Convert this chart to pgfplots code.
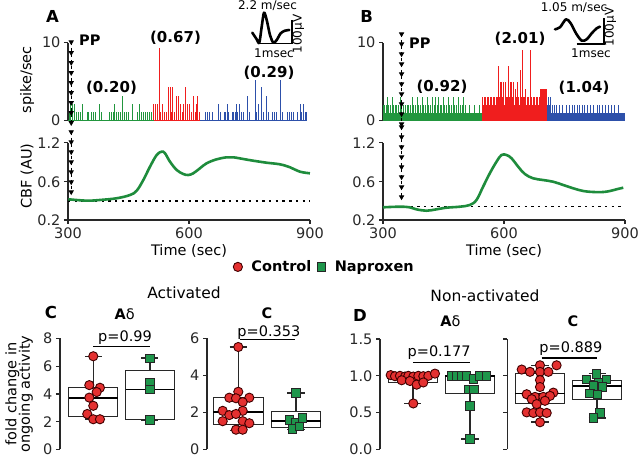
\documentclass[border=0pt]{standalone}
\usepackage{fontspec}
\setmainfont{DejaVu Sans}
\usepackage{pgfplots}
\pgfplotsset{compat=1.18}
\usepgfplotslibrary{statistics}
\definecolor{hgreen}{RGB}{34,150,62}
\definecolor{hred}{RGB}{240,30,30}
\definecolor{hblue}{RGB}{45,80,170}
\definecolor{cgreen}{RGB}{30,140,60}
\definecolor{dred}{RGB}{228,48,48}
\definecolor{dgreen}{RGB}{30,150,75}
\definecolor{axc}{RGB}{40,40,40}
\newcommand\fsT{\fontsize{14.5}{16}\selectfont}
\newcommand\fsB{\fontsize{15}{17}\selectfont}
\newcommand\fsL{\fontsize{16.5}{18}\selectfont}
\newcommand\fsS{\fontsize{12}{13}\selectfont}
\pgfplotsset{
  base/.style={scale only axis, anchor=south west, clip=false,
    axis line style={axc, line width=1.2pt},
    every tick/.style={axc, line width=1.2pt},
    tick align=outside, major tick length=4pt,
    tick label style={font=\fsT, text=axc}},
  hist/.style={width=242pt, height=78pt, xmin=300, xmax=900, ymin=0, ymax=10,
    axis x line=none, axis y line*=left, ytick={0,10}, yticklabels={0,10}},
  cbf/.style={width=242pt, height=77.3pt, xmin=300, xmax=900, ymin=0.2, ymax=1.2,
    axis x line*=bottom, axis y line*=left, xtick={300,600,900}, xticklabels={300,600,900},
    ytick={0.2,0.695,1.2}, yticklabels={0.2,0.6,1.2}},
  box/.style={axis x line=none, axis y line*=left, ymin=0},
  pp/.style={black, line width=0.9pt, dash pattern=on 3pt off 3pt, mark=triangle*, mark size=2.3pt,
    mark options={solid, rotate=180, fill=black}},
  rdot/.style={only marks, mark=*, mark size=4.6pt, mark options={fill=dred, draw=black!75!red, line width=0.9pt}},
  gsq/.style={only marks, mark=square*, mark size=4.2pt, mark options={fill=dgreen, draw=black!85, line width=0.9pt}},
  boxplot/draw direction=y,
  boxplot/every box/.style={draw=axc, line width=1pt, fill=white},
  boxplot/every whisker/.style={axc, line width=1.5pt},
  boxplot/every median/.style={black, line width=1.8pt},
  bx/.style={forget plot, axc, boxplot prepared={box extend=0.86, whisker extend=0.3}},
  pline/.style={black, line width=1.4pt, forget plot},
}
\begin{document}
\begin{tikzpicture}
\useasboundingbox (0,0) rectangle (640pt,457pt);

% ---------- canvas for inset spikes ----------
\begin{axis}[at={(0pt,0pt)}, anchor=south west, scale only axis, width=640pt, height=457pt,
  xmin=0, xmax=640, ymin=-457, ymax=0, hide axis, clip=false]
\addplot[black, line width=2.6pt, smooth, tension=0.5, line join=round, line cap=round] coordinates {
(252.3,-32.7)(256.7,-39.3)(259.3,-42.7)(261.7,-26.7)(264,-12.7)(266.7,-20)(270,-35)(273.3,-42.7)(276.7,-40)(280.7,-33.3)(285,-30.7)(289.3,-30)};
\addplot[black, line width=1.2pt] coordinates {(260,-43.3)(292,-43.3)(292,-20)};
\addplot[black, line width=2.6pt, smooth, tension=0.5, line join=round, line cap=round] coordinates {
(555,-29.3)(560,-27.3)(566,-19.3)(570.7,-23.3)(576,-33.3)(581.7,-40.7)(586.7,-39.3)(591.7,-33.3)(596.7,-28.3)(600,-26.7)};
\addplot[black, line width=1.2pt] coordinates {(576.7,-44)(604,-44)(604,-18.3)};
\end{axis}

% ---------- Histogram A ----------
\begin{axis}[base, hist, at={(68pt,336.3pt)}]
\addplot[ycomb, hgreen, line width=0.9pt] coordinates {
(303,1.1)(306,2.2)(310,2.2)(312,2.2)(315,2.2)(322,1.1)(327,1.1)(332,1.1)(337,2.2)(347,1.1)(350,1.1)(359,1.1)(362,1.1)(367,1.1)(377,2.2)(384,1.1)(404,1.1)(407,1.1)(412,1.1)(414,2.2)(421,1.1)(424,1.1)(429,1.1)(436,3.2)(441,1.1)(444,1.1)(449,1.1)(459,2.2)(461,1.1)(471,1.1)(476,2.2)(483,1.1)(486,1.1)(491,1.1)(496,1.1)(501,1.1)(506,1.1)};
\addplot[ycomb, hred, line width=0.9pt] coordinates {
(513,2.2)(516,2.2)(518,2.2)(521,1.1)(523,2.2)(526,9.3)(530,1.1)(535,2.2)(538,1.1)(543,1.1)(548,4.3)(553,2.2)(555,4.3)(557,1.1)(560,4.3)(565,1.1)(570,3.2)(573,3.2)(578,2.2)(583,1.1)(587,2.2)(590,4.3)(595,2.2)(600,1.1)(602,2.2)(607,1.1)(610,3.2)(615,1.1)(618,2.2)(622,3.2)(625,1.1)};
\addplot[ycomb, hblue, line width=0.8pt] coordinates {
(640,1.1)(645,1.1)(651,1.1)(657,1.1)(672,2.2)(677,1.1)(687,1.1)(690,1.1)(694,2.2)(697,1.1)(707,1.1)(710,1.1)(714,1.1)(717,2.2)(721,1.1)(726,2.2)(731,1.1)(735,1.1)(746,3.2)(751,1.1)(764,5.2)(768,1.1)(772,2.2)(780,4.3)(784,1.1)(791,3.2)(797,1.1)(807,1.1)(811,1.1)(817,1.1)(827,5.2)(831,1.1)(843,1.1)(848,1.1)(855,1.1)(860,1.1)(870,1.1)(875,2.2)(879,1.1)(883,2.2)(888,1.1)(892,1.1)};
\addplot[hgreen, line width=1pt] coordinates {(300,0)(512,0)};
\addplot[hred, line width=1pt] coordinates {(512,0)(627,0)};
\addplot[hblue, line width=1pt] coordinates {(627,0)(893,0)};
\addplot[pp] coordinates {(308,10.1)(308,8.72)(308,7.44)(308,6.15)(308,4.87)(308,3.59)(308,2.31)(308,1.03)(308,-0.26)};
\end{axis}

% ---------- CBF A ----------
\begin{axis}[base, cbf, at={(68pt,237pt)}]
\addplot[black, line width=1.6pt, dash pattern=on 2.4pt off 4.3pt] coordinates {(300,0.446)(900,0.446)};
\addplot[cgreen, line width=2.6pt, smooth, tension=0.6] coordinates {
(300.8,0.468)(346.3,0.450)(379.3,0.459)(420.6,0.481)(453.7,0.523)(470.3,0.579)(486.7,0.717)(503.3,0.890)(519.9,1.041)(532.3,1.084)(540.5,1.063)(552.9,0.954)(569.5,0.847)(585.8,0.795)(598.2,0.782)(610.6,0.804)(627.2,0.869)(643.8,0.934)(668.6,0.985)(693.4,1.011)(709.8,1.011)(734.6,0.989)(759.4,0.967)(792.5,0.941)(825.6,0.920)(850.3,0.882)(875.1,0.825)(899.9,0.804)};
\addplot[pp] coordinates {(308,1.34)(308,1.21)(308,1.08)(308,0.951)(308,0.822)(308,0.692)(308,0.563)};
\end{axis}

% ---------- Histogram B ----------
\begin{axis}[base, hist, at={(383pt,336.3pt)}]
\addplot[ycomb, hgreen, line width=0.6pt] table[header=false, x expr={300+2.479*\coordindex}, y index=0, row sep=\\] {
2\\2\\1\\2\\3\\2\\1\\2\\1\\3\\2\\1\\2\\2\\1\\2\\1\\3\\2\\1\\2\\1\\2\\1\\2\\2\\1\\2\\1\\3\\2\\1\\2\\1\\3\\2\\1\\2\\1\\3\\2\\1\\2\\1\\3\\2\\1\\2\\1\\3\\1\\2\\3\\1\\2\\3\\1\\2\\2\\1\\3\\2\\1\\2\\1\\3\\2\\1\\2\\1\\3\\2\\1\\2\\1\\3\\1\\2\\1\\2\\3\\1\\2\\1\\1\\1\\2\\1\\1\\1\\1\\2\\1\\1\\1\\1\\2\\1\\1\\
};
\addplot[ycomb, hred, line width=0.6pt] table[header=false, x expr={545.4+2.479*\coordindex}, y index=0, row sep=\\] {
3\\2\\3\\3\\2\\3\\3\\2\\3\\3\\2\\3\\3\\2\\3\\3\\7\\3\\5\\5\\3\\5\\2\\5\\3\\3\\7\\3\\5\\5\\3\\5\\2\\4\\3\\5\\3\\2\\6.5\\3\\9\\3\\3\\4\\2\\3\\3\\2\\9\\3\\2\\3\\3\\2\\3\\3\\2\\3\\4\\4\\4\\4\\4\\4\\4\\
};
\addplot[ycomb, hblue, line width=0.6pt] table[header=false, x expr={706.6+2.479*\coordindex}, y index=0, row sep=\\] {
2\\3\\2\\3\\1\\2\\1\\2\\1\\2\\1\\1\\2\\1\\1\\2\\1\\1\\1\\2\\1\\1\\2\\1\\1\\2\\1\\2\\1\\1\\2\\1\\2\\1\\1\\2\\1\\2\\1\\1\\2\\1\\1\\2\\1\\1\\2\\1\\1\\1\\2\\1\\2\\1\\1\\2\\1\\1\\2\\1\\1\\2\\1\\1\\2\\1\\1\\2\\1\\1\\1\\2\\1\\1\\1\\1\\1\\1\\
};
\addplot[hgreen, line width=1pt] coordinates {(300,0)(545,0)};
\addplot[hred, line width=1pt] coordinates {(545,0)(707,0)};
\addplot[hblue, line width=1pt] coordinates {(707,0)(898,0)};
\addplot[pp] coordinates {(346,11.12)(346,9.83)(346,8.55)(346,7.27)(346,5.99)(346,4.71)(346,3.42)(346,2.14)(346,0.86)(346,-0.42)};
\end{axis}

% ---------- CBF B ----------
\begin{axis}[base, cbf, at={(383pt,237pt)}]
\addplot[black, line width=1.6pt, dash pattern=on 2.4pt off 4.3pt] coordinates {(302,0.372)(900,0.372)};
\addplot[cgreen, line width=2.6pt, smooth, tension=0.6] coordinates {
(300,0.364)(341.4,0.372)(366.3,0.364)(382.9,0.338)(407.7,0.320)(432.5,0.338)(457.3,0.359)(490.4,0.372)(515.2,0.394)(531.8,0.459)(548.2,0.631)(564.8,0.804)(581.4,0.954)(593.8,1.041)(606.2,1.041)(618.7,0.998)(635.1,0.890)(651.7,0.795)(672.3,0.739)(697.1,0.717)(721.9,0.695)(746.8,0.653)(771.6,0.610)(796.4,0.575)(821.2,0.562)(846.0,0.562)(862.6,0.575)(879.1,0.597)(895.7,0.618)};
\addplot[pp] coordinates {(346,1.403)(346,1.274)(346,1.144)(346,1.015)(346,0.886)(346,0.756)(346,0.627)(346,0.498)};
\end{axis}

% ---------- C1: A-delta activated ----------
\begin{axis}[base, box, width=118.3pt, height=111pt, at={(60pt,7.5pt)}, xmin=0.413, xmax=2.5, ymax=8,
  ytick={0,2,4,6,8}, yticklabels={0,2,4,6,8},
  legend style={at={(axis description cs:2.236,1.645)}, anchor=center, draw=none, fill=none,
    legend columns=2, font=\bfseries\fsT,
    /tikz/every odd column/.append style={column sep=7pt},
    /tikz/every even column/.append style={column sep=4pt}},
  legend cell align=left]
\addplot[bx, boxplot prepared={draw position=1, lower whisker=2.18, lower quartile=2.41, median=3.69, upper quartile=4.45, upper whisker=6.72}] coordinates {};
\addplot[bx, boxplot prepared={draw position=2, lower whisker=2.13, lower quartile=2.13, median=4.33, upper quartile=5.70, upper whisker=6.58}] coordinates {};
\addplot[pline] coordinates {(1,7.41)(2,7.41)};
\addplot[rdot] coordinates {(1.0,6.72)(0.93,4.64)(1.118,4.45)(1.06,4.14)(0.93,3.74)(1.0,3.15)(0.894,2.56)(1.0,2.18)(1.118,2.18)};
\addlegendentry{Control}
\addplot[gsq] coordinates {(2,6.58)(2,4.80)(2,4.33)(2,2.13)};
\addlegendentry{Naproxen}
\node[font=\fsT] at (axis cs:1.56,8.05) {p=0.99};
\end{axis}

% ---------- C2: C activated ----------
\begin{axis}[base, box, width=115pt, height=111pt, at={(207pt,7.5pt)}, xmin=0.458, xmax=2.45, ymax=6,
  ytick={0,2,4,6}, yticklabels={0,2,4,6}]
\addplot[bx, boxplot prepared={draw position=1, lower whisker=1.03, lower quartile=1.37, median=2.04, upper quartile=2.80, upper whisker=5.54}] coordinates {};
\addplot[bx, boxplot prepared={draw position=2, lower whisker=1.07, lower quartile=1.21, median=1.56, upper quartile=2.04, upper whisker=3.05}] coordinates {};
\addplot[pline] coordinates {(1.03,5.96)(1.98,5.96)};
\addplot[rdot] coordinates {(1.0,5.54)(1.0,3.12)(0.844,2.80)(0.96,2.77)(1.191,2.80)(1.076,2.56)(0.73,2.09)(1.076,2.09)(0.844,1.86)(0.96,1.92)(0.73,1.53)(1.076,1.53)(1.191,1.42)(0.96,1.07)(1.076,1.07)};
\addplot[gsq] coordinates {(2.0,3.05)(1.884,1.60)(2.0,1.47)(2.116,1.70)(1.943,1.12)(2.058,1.24)};
\node[font=\fsT] at (axis cs:1.53,6.33) {p=0.353};
\end{axis}

% ---------- D1: A-delta non-activated ----------
\begin{axis}[base, box, width=115.7pt, height=110.5pt, at={(380pt,7.5pt)}, xmin=0.427, xmax=2.45, ymax=1.5,
  ytick={0,0.5,1,1.5}, yticklabels={0.0,0.5,1.0,1.5}]
\addplot[bx, boxplot prepared={draw position=1, lower whisker=0.625, lower quartile=0.906, median=0.985, upper quartile=1.02, upper whisker=1.03}] coordinates {};
\addplot[bx, boxplot prepared={draw position=2, lower whisker=0.143, lower quartile=0.76, median=1.0, upper quartile=1.0, upper whisker=1.0}] coordinates {};
\addplot[pline] coordinates {(1,1.18)(2,1.18)};
\addplot[rdot] coordinates {(0.614,1.01)(0.689,0.995)(0.776,1.0)(0.864,0.99)(0.922,1.0)(1.009,0.99)(1.097,1.0)(1.184,0.995)(1.272,1.0)(1.388,1.03)(0.806,0.94)(0.951,0.93)(1.068,0.88)(1.184,0.91)(1.009,0.625)};
\addplot[gsq] coordinates {(1.68,1.0)(1.767,1.0)(1.855,1.0)(1.942,1.0)(2.058,0.96)(2.175,1.0)(2.29,1.0)(1.97,0.817)(2.07,0.817)(2.0,0.589)(2.0,0.143)};
\node[font=\fsT] at (axis cs:1.46,1.31) {p=0.177};
\end{axis}

% ---------- D2: C non-activated ----------
\begin{axis}[base, box, width=115.6pt, height=110.5pt, at={(507.3pt,7.5pt)}, xmin=0.428, xmax=2.45, ymax=1.5,
  ytick={0,0.5,1,1.5}, yticklabels={}]
\addplot[bx, boxplot prepared={draw position=1, lower whisker=0.37, lower quartile=0.625, median=0.76, upper quartile=1.03, upper whisker=1.14}] coordinates {};
\addplot[bx, boxplot prepared={draw position=2, lower whisker=0.43, lower quartile=0.683, median=0.857, upper quartile=0.94, upper whisker=1.03}] coordinates {};
\addplot[pline] coordinates {(1.03,1.24)(2,1.24)};
\addplot[rdot] coordinates {(1.0,1.143)(1.29,1.143)(0.68,1.085)(0.825,1.054)(1.0,1.054)(1.146,1.054)(1.0,0.942)(1.0,0.848)(0.767,0.75)(0.913,0.714)(1.058,0.714)(1.233,0.772)(0.855,0.683)(1.175,0.728)(0.942,0.616)(1.087,0.661)(0.767,0.504)(0.883,0.496)(1.0,0.504)(1.117,0.496)(1.0,0.37)};
\addplot[gsq] coordinates {(1.99,1.027)(1.816,0.951)(2.166,0.951)(2.02,0.906)(1.932,0.862)(2.096,0.848)(1.874,0.759)(2.0,0.75)(2.05,0.496)(1.932,0.429)};
\node[font=\fsT] at (axis cs:1.54,1.375) {p=0.889};
\end{axis}

% ---------- texts ----------
\node[font=\bfseries\fsL] at (52.5pt,441pt) {A};
\node[font=\bfseries\fsL] at (366.7pt,441pt) {B};
\node[font=\fsT, rotate=90] at (27pt,377pt) {spike/sec};
\node[font=\fsT, rotate=90] at (27pt,281pt) {CBF (AU)};
\node[font=\fsT] at (189pt,206pt) {Time (sec)};
\node[font=\fsT] at (504pt,206pt) {Time (sec)};
\node[font=\bfseries\fsT, anchor=west, inner sep=0pt] at (79pt,416.5pt) {PP};
\node[font=\bfseries\fsT, anchor=west, inner sep=0pt] at (409pt,414pt) {PP};
\node[font=\bfseries\fsB] at (111.5pt,369pt) {(0.20)};
\node[font=\bfseries\fsB] at (175.5pt,418.7pt) {(0.67)};
\node[font=\bfseries\fsB] at (269pt,383.7pt) {(0.29)};
\node[font=\bfseries\fsB] at (520pt,417.7pt) {(2.01)};
\node[font=\bfseries\fsB] at (442pt,369.7pt) {(0.92)};
\node[font=\bfseries\fsB] at (584pt,368.7pt) {(1.04)};
\node[font=\fsS] at (267.5pt,451pt) {2.2 m/sec};
\node[font=\fsS] at (274pt,403.3pt) {1msec};
\node[font=\fsS, rotate=90] at (298.5pt,423pt) {100μV};
\node[font=\fsS] at (574pt,449.5pt) {1.05 m/sec};
\node[font=\fsS] at (591pt,403.3pt) {1msec};
\node[font=\fsS, rotate=90] at (610.5pt,430pt) {100μV};
\node[font=\fontsize{15.5}{17}\selectfont] at (184pt,164.5pt) {Activated};
\node[font=\fontsize{15.5}{17}\selectfont] at (485pt,161pt) {Non-activated};
\node[font=\bfseries\fsL] at (51pt,145pt) {C};
\node[font=\bfseries\fsL] at (360pt,142pt) {D};
\node[font=\fsT] at (124.7pt,143pt) {\textbf{A}δ};
\node[font=\bfseries\fsT] at (267pt,144pt) {C};
\node[font=\fsT] at (450.5pt,135.3pt) {\textbf{A}δ};
\node[font=\bfseries\fsT] at (573pt,135.3pt) {C};
\node[font=\fsT, rotate=90, align=center] at (19pt,63pt) {fold change in\\[-2.5pt]ongoing activity};
\end{tikzpicture}
\end{document}
